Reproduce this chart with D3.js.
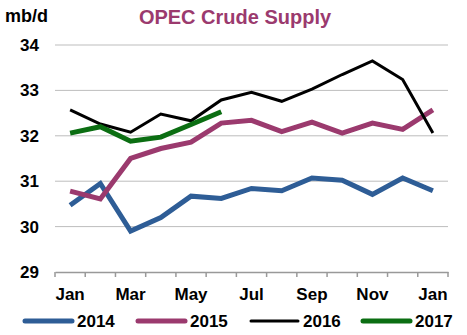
<!DOCTYPE html>
<html>
<head>
<meta charset="utf-8">
<script src="https://cdn.jsdelivr.net/npm/d3@7"></script>
<style>
  body { margin: 0; background: #fff; }
  text { font-family: Arial, "Liberation Sans", sans-serif; }
</style>
</head>
<body>
<div id="chart"></div>
<script>
const width = 467;
const height = 335;

const months = ["Jan", "Feb", "Mar", "Apr", "May", "Jun", "Jul", "Aug", "Sep", "Oct", "Nov", "Dec", "Jan2"];
const tickLabels = ["Jan", "Mar", "May", "Jul", "Sep", "Nov", "Jan"];
const yTicks = [29, 30, 31, 32, 33, 34];

const s2014 = [30.47, 30.95, 29.9, 30.2, 30.67, 30.62, 30.84, 30.79, 31.07, 31.02, 30.71, 31.07, 30.79];
const s2015 = [30.78, 30.61, 31.5, 31.72, 31.86, 32.28, 32.34, 32.09, 32.3, 32.06, 32.28, 32.14, 32.57];
const s2016 = [32.57, 32.26, 32.08, 32.48, 32.33, 32.79, 32.96, 32.76, 33.03, 33.35, 33.65, 33.24, 32.06];
const s2017 = [32.06, 32.2, 31.88, 31.97, 32.25, 32.53];

const series = [
	{name: "2014", values: s2014, color: "#2e5d96", w: 5},
	{name: "2015", values: s2015, color: "#9b3a6e", w: 5},
	{name: "2016", values: s2016, color: "#000000", w: 3},
	{name: "2017", values: s2017, color: "#0b6e12", w: 5}
];

const svg = d3.select("#chart")
	.append("svg")
	.attr("width", width)
	.attr("height", height);

const x = d3.scaleBand()
	.domain(months)
	.range([55, 448]);

const y = d3.scaleLinear()
	.domain([29, 34])
	.range([272, 45]);

// gridlines
svg.selectAll("line.grid")
	.data(yTicks.filter(d => d > 29))
	.enter()
	.append("line")
	.attr("class", "grid")
	.attr("x1", 55)
	.attr("x2", 448)
	.attr("y1", d => y(d))
	.attr("y2", d => y(d))
	.attr("stroke", "#bdbdbd")
	.attr("stroke-width", 1);

// y labels
svg.selectAll("text.ylab")
	.data(yTicks)
	.enter()
	.append("text")
	.attr("class", "ylab")
	.attr("x", 39)
	.attr("y", d => y(d) + 6)
	.attr("text-anchor", "end")
	.attr("font-size", 17)
	.attr("font-weight", "bold")
	.text(d => d);

// x axis
const xAxis = svg.append("g")
	.attr("transform", "translate(0,272)")
	.call(d3.axisBottom(x).tickSize(0).tickFormat(""));
xAxis.select(".domain").attr("stroke", "#999").attr("stroke-width", 1.5);

const edges = months.map(m => x(m)).concat([x.range()[1]]);
svg.selectAll("line.xtick")
	.data(edges)
	.enter()
	.append("line")
	.attr("class", "xtick")
	.attr("x1", d => d)
	.attr("x2", d => d)
	.attr("y1", 272)
	.attr("y2", 277)
	.attr("stroke", "#999")
	.attr("stroke-width", 1.5);

svg.selectAll("text.xlab")
	.data(tickLabels)
	.enter()
	.append("text")
	.attr("class", "xlab")
	.attr("x", (d, i) => x(months[i * 2]) + x.bandwidth() / 2)
	.attr("y", 300)
	.attr("text-anchor", "middle")
	.attr("font-size", 17)
	.attr("font-weight", "bold")
	.text(d => d);

// lines
const line = d3.line()
	.x((d, i) => x(months[i]) + x.bandwidth() / 2)
	.y(d => y(d));

svg.selectAll("path.series")
	.data(series)
	.enter()
	.append("path")
	.attr("class", "series")
	.attr("d", d => line(d.values))
	.attr("fill", "none")
	.attr("stroke", d => d.color)
	.attr("stroke-width", d => d.w)
	.attr("stroke-linejoin", "miter");

// title
svg.append("text")
	.attr("x", 235)
	.attr("y", 24)
	.attr("text-anchor", "middle")
	.attr("font-size", 20)
	.attr("font-weight", "bold")
	.attr("fill", "#9b3a6e")
	.text("OPEC Crude Supply");

svg.append("text")
	.attr("x", 5)
	.attr("y", 22)
	.attr("font-size", 18)
	.attr("font-weight", "bold")
	.text("mb/d");

// legend
const legendX = [25, 138, 251, 363];
const legend = svg.selectAll("g.legend")
	.data(series)
	.enter()
	.append("g")
	.attr("class", "legend")
	.attr("transform", (d, i) => `translate(${legendX[i]},321)`);

legend.append("line")
	.attr("x1", 0)
	.attr("x2", 47)
	.attr("stroke", d => d.color)
	.attr("stroke-width", d => d.w)
	.attr("stroke-linecap", "round");

legend.append("text")
	.attr("x", 52)
	.attr("y", 6)
	.attr("font-size", 17)
	.attr("font-weight", "bold")
	.text(d => d.name);
</script>
</body>
</html>
